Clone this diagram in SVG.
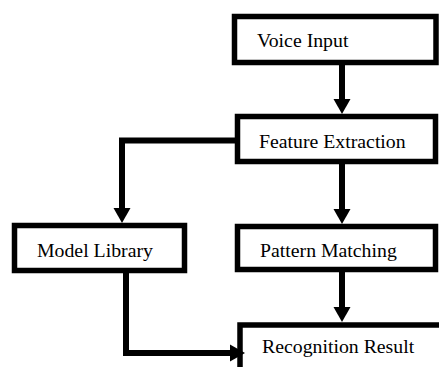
<svg xmlns="http://www.w3.org/2000/svg" width="439" height="367" viewBox="0 0 439 367">
<defs>
<style>
.box{fill:#fff;stroke:#000;stroke-width:5.5}
.lbl{font-family:"Liberation Serif","Times New Roman",serif;font-size:19.8px;fill:#000}
.conn{fill:none;stroke:#000;stroke-width:6}
</style>
<marker id="ah" markerUnits="userSpaceOnUse" markerWidth="16" markerHeight="17" refX="0" refY="8.5" orient="auto" overflow="visible">
<path d="M0,0 L15,8.5 L0,17 z" fill="#000"/>
</marker>
</defs>
<rect width="439" height="367" fill="#fff"/>
<g id="n-voice"><rect class="box" x="234.5" y="16.5" width="201.5" height="46"/><text class="lbl" x="257" y="47">Voice Input</text></g>
<g id="n-feature"><rect class="box" x="237.5" y="116.5" width="198" height="45"/><text class="lbl" x="259" y="148">Feature Extraction</text></g>
<g id="n-model"><rect class="box" x="14.5" y="225.5" width="170" height="45"/><text class="lbl" x="37" y="257">Model Library</text></g>
<g id="n-pattern"><rect class="box" x="237.5" y="226.5" width="198" height="43"/><text class="lbl" x="260" y="257">Pattern Matching</text></g>
<g id="n-result"><rect class="box" x="240" y="325" width="250" height="100"/><text class="lbl" x="262" y="353">Recognition Result</text></g>
<g id="connectors">
<path class="conn" d="M342,65 V99" marker-end="url(#ah)"/>
<path class="conn" d="M235,140.5 H122 V208" marker-end="url(#ah)"/>
<path class="conn" d="M342,164 V209" marker-end="url(#ah)"/>
<path class="conn" d="M342,272 V307" marker-end="url(#ah)"/>
<path class="conn" d="M126,273 V353 H230" marker-end="url(#ah)"/>
</g>
</svg>
